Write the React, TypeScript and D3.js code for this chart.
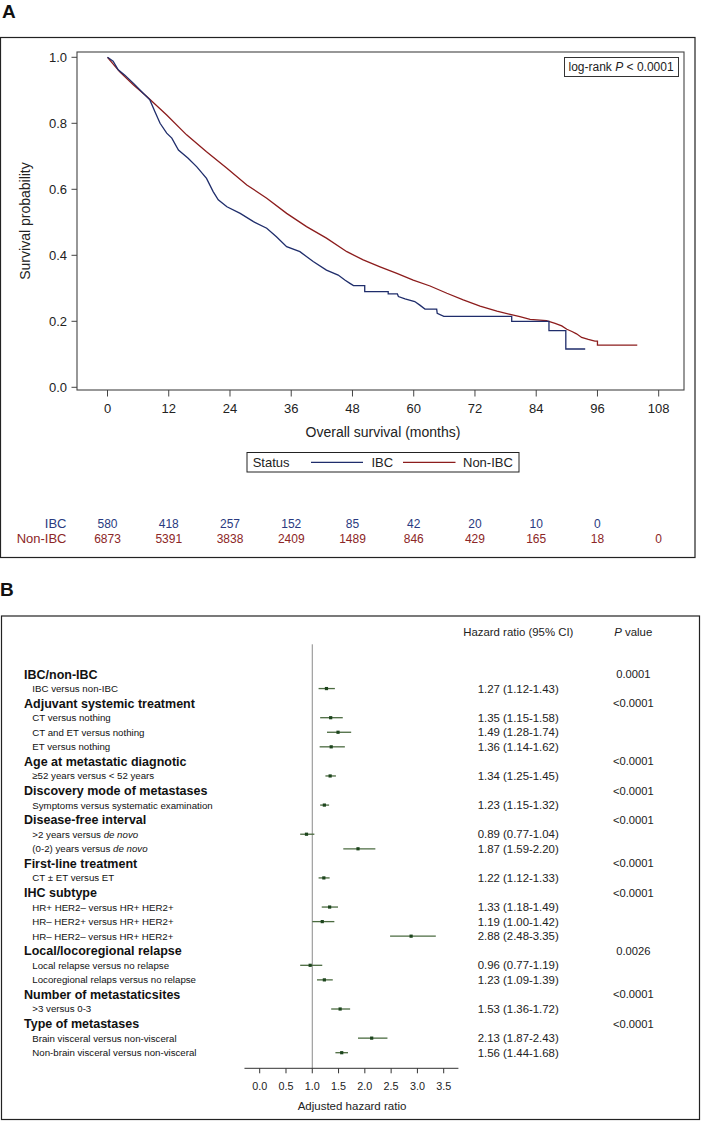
import React from "react";
import * as d3 from "d3";

// ---------- Panel A data ----------
const ibcCurve: [number, number][] = [
  [0, 1.0], [1.1, 0.988], [2.1, 0.962], [3.4, 0.946], [5.1, 0.921], [7.0, 0.891], [8.3, 0.871],
  [9.3, 0.835], [10.3, 0.8], [11.6, 0.77], [12.6, 0.755], [13.9, 0.719], [15.8, 0.694], [17.5, 0.668],
  [19.4, 0.633], [20.7, 0.593], [21.7, 0.568], [23.4, 0.547], [26.0, 0.527], [28.6, 0.502],
  [31.2, 0.482], [33.1, 0.456], [35.1, 0.426], [37.7, 0.411], [40.3, 0.381], [42.9, 0.355],
  [45.2, 0.34], [46.5, 0.325], [47.5, 0.315], [48.2, 0.308], [50.4, 0.308], [50.4, 0.29],
  [55.0, 0.29], [55.0, 0.283], [56.8, 0.283], [57.0, 0.275], [58.3, 0.268], [60.2, 0.26],
  [61.2, 0.249], [62.2, 0.237], [64.5, 0.237], [64.6, 0.224], [65.9, 0.215], [79.2, 0.215],
  [79.2, 0.2], [86.5, 0.2], [86.5, 0.172], [89.8, 0.172], [89.8, 0.116], [93.6, 0.116],
];
const nonIbcCurve: [number, number][] = [
  [0, 1.0], [2.4, 0.956], [5.1, 0.916], [7.7, 0.881], [11.6, 0.825], [15.5, 0.765], [19.4, 0.714],
  [23.4, 0.664], [27.3, 0.613], [31.2, 0.573], [35.1, 0.527], [39.0, 0.487], [42.9, 0.452],
  [46.9, 0.411], [50.1, 0.386], [53.4, 0.365], [56.7, 0.345], [59.9, 0.325], [63.2, 0.307],
  [66.5, 0.285], [69.7, 0.265], [73.0, 0.246], [76.3, 0.231], [78.9, 0.221], [80.8, 0.214],
  [82.8, 0.206], [86.0, 0.202], [87.7, 0.194], [89.0, 0.186], [90.0, 0.176], [91.0, 0.169],
  [91.9, 0.162], [92.9, 0.151], [94.2, 0.145], [95.5, 0.14], [96.0, 0.14], [96.0, 0.128], [103.8, 0.128],
];
const monthTicks = [0, 12, 24, 36, 48, 60, 72, 84, 96, 108];
const survTicks = [0.0, 0.2, 0.4, 0.6, 0.8, 1.0];
const ibcAtRisk = [580, 418, 257, 152, 85, 42, 20, 10, 0];
const nonIbcAtRisk = [6873, 5391, 3838, 2409, 1489, 846, 429, 165, 18, 0];

// ---------- Panel B data ----------
const rowLabels = [
  "IBC/non-IBC", "IBC versus non-IBC",
  "Adjuvant systemic treatment", "CT versus nothing", "CT and ET versus nothing", "ET versus nothing",
  "Age at metastatic diagnotic", "\u226552 years versus < 52 years",
  "Discovery mode of metastases", "Symptoms versus systematic examination",
  "Disease-free interval", ">2 years versus de novo", "(0-2) years versus de novo",
  "First-line treatment", "CT \u00b1 ET versus ET",
  "IHC subtype", "HR+ HER2\u2013 versus HR+ HER2+", "HR\u2013 HER2+ versus HR+ HER2+", "HR\u2013 HER2\u2013 versus HR+ HER2+",
  "Local/locoregional relapse", "Local relapse versus no relapse", "Locoregional relaps versus no relapse",
  "Number of metastaticsites", ">3 versus 0-3",
  "Type of metastases", "Brain visceral versus non-visceral", "Non-brain visceral versus non-visceral",
];
const rowIsHeader = [
  true, false, true, false, false, false, true, false, true, false, true, false, false,
  true, false, true, false, false, false, true, false, false, true, false, true, false, false,
];
const hrValues: (number | null)[] = [
  null, 1.27, null, 1.35, 1.49, 1.36, null, 1.34, null, 1.23, null, 0.89, 1.87,
  null, 1.22, null, 1.33, 1.19, 2.88, null, 0.96, 1.23, null, 1.53, null, 2.13, 1.56,
];
const ciLow: (number | null)[] = [
  null, 1.12, null, 1.15, 1.28, 1.14, null, 1.25, null, 1.15, null, 0.77, 1.59,
  null, 1.12, null, 1.18, 1.0, 2.48, null, 0.77, 1.09, null, 1.36, null, 1.87, 1.44,
];
const ciHigh: (number | null)[] = [
  null, 1.43, null, 1.58, 1.74, 1.62, null, 1.45, null, 1.32, null, 1.04, 2.2,
  null, 1.33, null, 1.49, 1.42, 3.35, null, 1.19, 1.39, null, 1.72, null, 2.43, 1.68,
];
const pValues = [
  "0.0001", "", "<0.0001", "", "", "", "<0.0001", "", "<0.0001", "", "<0.0001", "", "",
  "<0.0001", "", "<0.0001", "", "", "", "0.0026", "", "", "<0.0001", "", "<0.0001", "", "",
];
const hrTicks = [0, 0.5, 1.0, 1.5, 2.0, 2.5, 3.0, 3.5];

const FONT = "'Liberation Sans', Arial, Helvetica, sans-serif";
const BLUE = "#1f2d6b";
const RED = "#8c1c1c";
const BLUE_TXT = "#2a3a80";
const RED_TXT = "#8c2626";
const GREEN_DOT = "#1d451d";
const GREEN_LINE = "#4b6b40";

function PanelA() {
  const plot = { left: 77, right: 684, top: 52, bottom: 390 };
  const x = d3.scaleLinear().domain([0, 108]).range([107.5, 658.7]);
  const y = d3.scaleLinear().domain([0, 1]).range([387.3, 57.3]);
  const line = d3.line<[number, number]>().x((d) => x(d[0])).y((d) => y(d[1])).curve(d3.curveLinear);
  return (
    <g fontFamily={FONT}>
      <text x={2} y={18} fontSize={19} fontWeight="bold" fill="#111">A</text>
      <rect x={0.5} y={37.5} width={694.5} height={520} fill="none" stroke="#222" strokeWidth={1.2} />
      <rect x={plot.left} y={plot.top} width={plot.right - plot.left} height={plot.bottom - plot.top}
        fill="none" stroke="#444" strokeWidth={1.1} />
      {survTicks.map((t) => (
        <g key={"yt" + t}>
          <line x1={plot.left - 5.5} x2={plot.left} y1={y(t)} y2={y(t)} stroke="#444" />
          <text x={67} y={y(t)} dy="0.36em" textAnchor="end" fontSize={13} fill="#222">{t.toFixed(1)}</text>
        </g>
      ))}
      {monthTicks.map((t) => (
        <g key={"xt" + t}>
          <line x1={x(t)} x2={x(t)} y1={plot.bottom} y2={plot.bottom + 6.5} stroke="#444" />
          <text x={x(t)} y={408} dy="0.36em" textAnchor="middle" fontSize={13} fill="#222">{t}</text>
        </g>
      ))}
      <text transform={`translate(25,221) rotate(-90)`} textAnchor="middle" dy="0.36em" fontSize={14} fill="#222">
        Survival probability
      </text>
      <text x={383} y={432} dy="0.36em" textAnchor="middle" fontSize={14} fill="#222">Overall survival (months)</text>
      <path d={line(nonIbcCurve) || ""} fill="none" stroke={RED} strokeWidth={1.3} />
      <path d={line(ibcCurve) || ""} fill="none" stroke={BLUE} strokeWidth={1.3} />
      <rect x={564.5} y={57.5} width={114} height={19} fill="#fff" stroke="#333" strokeWidth={1} />
      <text x={568.5} y={67} dy="0.36em" fontSize={12} fill="#222">
        log-rank <tspan fontStyle="italic">P</tspan> {"<"} 0.0001
      </text>
      {/* legend */}
      <rect x={247} y={452.5} width={272} height={19.5} fill="#fff" stroke="#222" strokeWidth={1} />
      <text x={252.7} y={462.3} dy="0.36em" fontSize={13} fill="#222">Status</text>
      <line x1={311} x2={363} y1={462.3} y2={462.3} stroke={BLUE} strokeWidth={1.3} />
      <text x={371.4} y={462.3} dy="0.36em" fontSize={13} fill="#222">IBC</text>
      <line x1={403} x2={455.5} y1={462.3} y2={462.3} stroke={RED} strokeWidth={1.3} />
      <text x={463} y={462.3} dy="0.36em" fontSize={13} fill="#222">Non-IBC</text>
      {/* at risk */}
      <text x={66.5} y={523.3} dy="0.36em" textAnchor="end" fontSize={13} fill={BLUE_TXT}>IBC</text>
      <text x={66.5} y={538.7} dy="0.36em" textAnchor="end" fontSize={13} fill={RED_TXT}>Non-IBC</text>
      {ibcAtRisk.map((v, i) => (
        <text key={"ir" + i} x={x(monthTicks[i])} y={523.3} dy="0.36em" textAnchor="middle" fontSize={12} fill={BLUE_TXT}>{v}</text>
      ))}
      {nonIbcAtRisk.map((v, i) => (
        <text key={"nr" + i} x={x(monthTicks[i])} y={538.7} dy="0.36em" textAnchor="middle" fontSize={12} fill={RED_TXT}>{v}</text>
      ))}
    </g>
  );
}

function renderLabel(label: string) {
  const idx = label.indexOf("de novo");
  if (idx < 0) return label;
  return (
    <>
      {label.slice(0, idx)}
      <tspan fontStyle="italic">de novo</tspan>
    </>
  );
}

function PanelB() {
  const x = d3.scaleLinear().domain([0, 3.5]).range([259.7, 443.7]);
  const rowY = d3.scaleLinear().domain([0, rowLabels.length - 1]).range([674, 1052.7]);
  const axisY = 1068.3;
  return (
    <g fontFamily={FONT}>
      <text x={0} y={596} fontSize={19} fontWeight="bold" fill="#111">B</text>
      <rect x={1.5} y={616} width={698} height={1104 - 616 + 15.5} fill="none" stroke="#222" strokeWidth={1.2} />
      <text x={518.3} y={632.3} dy="0.36em" textAnchor="middle" fontSize={11.4} fill="#222">Hazard ratio (95% CI)</text>
      <text x={633.3} y={632.3} dy="0.36em" textAnchor="middle" fontSize={11.4} fill="#222">
        <tspan fontStyle="italic">P</tspan> value
      </text>
      <line x1={x(1)} x2={x(1)} y1={644.3} y2={axisY} stroke="#8a8a8a" strokeWidth={1} />
      {rowLabels.map((lab, i) => (
        <text key={"lab" + i} x={rowIsHeader[i] ? 24 : 32.3} y={rowY(i)} dy="0.36em"
          fontSize={rowIsHeader[i] ? 12.5 : 9.7} fontWeight={rowIsHeader[i] ? "bold" : "normal"} fill="#111">
          {renderLabel(lab)}
        </text>
      ))}
      {hrValues.map((v, i) =>
        v == null ? null : (
          <g key={"hr" + i}>
            <line x1={x(ciLow[i] as number)} x2={x(ciHigh[i] as number)} y1={rowY(i)} y2={rowY(i)}
              stroke={GREEN_LINE} strokeWidth={1.3} />
            <rect x={x(v) - 1.6} y={rowY(i) - 1.6} width={3.2} height={3.2} fill={GREEN_DOT} />
            <text x={477.7} y={rowY(i)} dy="0.36em" fontSize={11.4} fill="#222">
              {`${v.toFixed(2)} (${(ciLow[i] as number).toFixed(2)}-${(ciHigh[i] as number).toFixed(2)})`}
            </text>
          </g>
        )
      )}
      {pValues.map((p, i) =>
        p ? (
          <text key={"p" + i} x={633.3} y={rowY(i)} dy="0.36em" textAnchor="middle" fontSize={11.2} fill="#222">{p}</text>
        ) : null
      )}
      <line x1={x(-0.29)} x2={x(3.78)} y1={axisY} y2={axisY} stroke="#333" strokeWidth={1} />
      {hrTicks.map((t) => (
        <g key={"ht" + t}>
          <line x1={x(t)} x2={x(t)} y1={axisY} y2={axisY + 5} stroke="#333" />
          <text x={x(t)} y={1086} dy="0.36em" textAnchor="middle" fontSize={10.8} fill="#222">{t.toFixed(1)}</text>
        </g>
      ))}
      <text x={352} y={1105.7} dy="0.36em" textAnchor="middle" fontSize={11.5} fill="#222">Adjusted hazard ratio</text>
    </g>
  );
}

export default function App() {
  return (
    <svg width={701} height={1121} viewBox="0 0 701 1121"
      style={{ position: "absolute", left: 0, top: 0, background: "#fff" }}>
      <rect x={0} y={0} width={701} height={1121} fill="#fff" />
      <PanelA />
      <PanelB />
    </svg>
  );
}
